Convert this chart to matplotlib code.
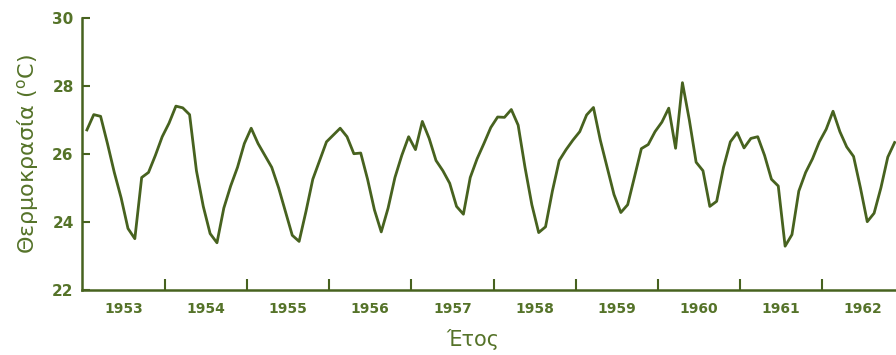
import matplotlib

matplotlib.use("Agg")

import matplotlib.pyplot as plt
import numpy as np

# monthly mean temperature (°C), Jan..Dec
temp_1953 = [26.70, 27.15, 27.10, 26.30, 25.45, 24.70, 23.80, 23.50, 25.30, 25.45, 25.95, 26.50]
temp_1954 = [26.90, 27.40, 27.35, 27.15, 25.50, 24.45, 23.65, 23.38, 24.40, 25.05, 25.60, 26.30]
temp_1955 = [26.75, 26.30, 25.95, 25.60, 25.00, 24.30, 23.60, 23.42, 24.30, 25.25, 25.80, 26.35]
temp_1956 = [26.55, 26.75, 26.50, 26.00, 26.02, 25.25, 24.35, 23.70, 24.40, 25.30, 25.95, 26.50]
temp_1957 = [26.12, 26.95, 26.45, 25.80, 25.50, 25.13, 24.45, 24.22, 25.30, 25.85, 26.30, 26.77]
temp_1958 = [27.08, 27.07, 27.30, 26.84, 25.60, 24.50, 23.68, 23.85, 24.90, 25.80, 26.12, 26.40]
temp_1959 = [26.65, 27.14, 27.36, 26.40, 25.60, 24.80, 24.27, 24.50, 25.32, 26.15, 26.27, 26.65]
temp_1960 = [26.93, 27.34, 26.16, 28.09, 27.00, 25.75, 25.50, 24.45, 24.60, 25.60, 26.35, 26.62]
temp_1961 = [26.17, 26.45, 26.50, 25.95, 25.25, 25.05, 23.28, 23.62, 24.90, 25.45, 25.85, 26.35]
temp_1962 = [26.72, 27.25, 26.65, 26.20, 25.92, 25.00, 24.00, 24.25, 25.00, 25.90, 26.33]

years = list(range(1953, 1963))
y_ticks = [22, 24, 26, 28, 30]

LINE = "#47621f"
TEXT = "#557329"

temp = np.array(temp_1953 + temp_1954 + temp_1955 + temp_1956 + temp_1957
                + temp_1958 + temp_1959 + temp_1960 + temp_1961 + temp_1962)
t = 1953 + (np.arange(len(temp)) + 0.6) / 12

plt.rcParams["font.family"] = ["DejaVu Sans"]

fig = plt.figure(figsize=(8.96, 3.55), dpi=100)
ax = fig.add_axes([0.0915, 0.184, 0.9085, 0.766])

ax.plot(t, temp, color=LINE, linewidth=2.0, solid_joinstyle="round")

ax.set_xlim(1952.99, 1962.9)
ax.set_ylim(22, 30)

for side in ("top", "right"):
    ax.spines[side].set_visible(False)
for side in ("left", "bottom"):
    ax.spines[side].set_color(LINE)
    ax.spines[side].set_linewidth(1.8)

# year boundaries get the tick marks, year centres get the labels
ax.set_xticks(years[1:])
ax.set_xticklabels([])
ax.set_xticks([y + 0.5 for y in years], minor=True)
ax.set_xticklabels([str(y) for y in years], minor=True, fontweight="bold")
ax.tick_params(axis="x", which="major", direction="in", length=8, width=1.5, color=LINE)
ax.tick_params(axis="x", which="minor", length=0, pad=9, labelsize=10, labelcolor=TEXT)

ax.set_yticks(y_ticks)
ax.set_yticklabels([str(v) for v in y_ticks], fontweight="bold")
ax.tick_params(axis="y", direction="in", length=6, width=1.5, color=LINE,
               pad=6, labelsize=11, labelcolor=TEXT)

ax.set_ylabel("Θερμοκρασία ($^{\\mathrm{o}}$C)", fontsize=16, color=TEXT, labelpad=8)
ax.set_xlabel("Έτος", fontsize=15, color=TEXT)
ax.xaxis.set_label_coords(0.48, -0.145)

fig.savefig("out.png", dpi=100)
